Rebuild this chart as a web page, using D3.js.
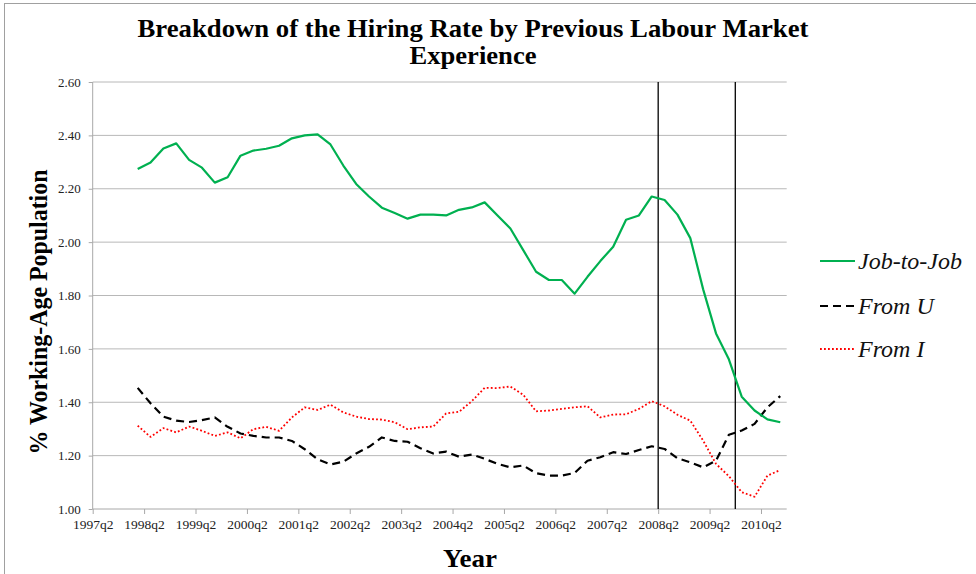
<!DOCTYPE html>
<html>
<head>
<meta charset="utf-8">
<script src="https://cdn.jsdelivr.net/npm/d3@7"></script>
<style>
  html, body { margin: 0; padding: 0; background: #fff; }
  svg { display: block; }
</style>
</head>
<body>
<script>
// Quarters covered by the series (each point sits in the middle of its quarter)
const quarters = [
  "1998q1","1998q2","1998q3","1998q4",
  "1999q1","1999q2","1999q3","1999q4",
  "2000q1","2000q2","2000q3","2000q4",
  "2001q1","2001q2","2001q3","2001q4",
  "2002q1","2002q2","2002q3","2002q4",
  "2003q1","2003q2","2003q3","2003q4",
  "2004q1","2004q2","2004q3","2004q4",
  "2005q1","2005q2","2005q3","2005q4",
  "2006q1","2006q2","2006q3","2006q4",
  "2007q1","2007q2","2007q3","2007q4",
  "2008q1","2008q2","2008q3","2008q4",
  "2009q1","2009q2","2009q3","2009q4",
  "2010q1","2010q2","2010q3"
];

// Hiring rate components, % of working-age population
const jobToJob = [
  2.274, 2.298, 2.351, 2.370,
  2.308, 2.279, 2.223, 2.243,
  2.324, 2.343, 2.350, 2.361,
  2.389, 2.400, 2.404, 2.366,
  2.287, 2.218, 2.171, 2.129,
  2.109, 2.088, 2.103, 2.103,
  2.100, 2.121, 2.130, 2.149,
  2.100, 2.051, 1.970, 1.889,
  1.858, 1.858, 1.807, 1.870,
  1.929, 1.983, 2.084, 2.100,
  2.171, 2.158, 2.103, 2.015,
  1.823, 1.658, 1.561, 1.421,
  1.369, 1.336, 1.325
];
const fromU = [
  1.454, 1.396, 1.346, 1.331,
  1.326, 1.333, 1.343, 1.308,
  1.283, 1.274, 1.268, 1.268,
  1.255, 1.224, 1.186, 1.167,
  1.177, 1.208, 1.233, 1.268,
  1.255, 1.252, 1.228, 1.208,
  1.215, 1.196, 1.204, 1.188,
  1.169, 1.156, 1.163, 1.134,
  1.125, 1.125, 1.135, 1.181,
  1.194, 1.213, 1.206, 1.221,
  1.235, 1.225, 1.190, 1.175,
  1.156, 1.181, 1.278, 1.294,
  1.319, 1.381, 1.423
];
const fromI = [
  1.312, 1.270, 1.303, 1.287,
  1.309, 1.293, 1.274, 1.287,
  1.265, 1.299, 1.308, 1.293,
  1.343, 1.381, 1.371, 1.391,
  1.362, 1.346, 1.337, 1.335,
  1.325, 1.299, 1.306, 1.309,
  1.358, 1.364, 1.404, 1.454,
  1.453, 1.459, 1.428, 1.366,
  1.369, 1.375, 1.381, 1.385,
  1.343, 1.354, 1.355, 1.375,
  1.404, 1.385, 1.353, 1.331,
  1.256, 1.169, 1.123, 1.063,
  1.046, 1.125, 1.146
];

// Axis labels and reference dates
const xTickLabels = ["1997q2","1998q2","1999q2","2000q2","2001q2","2002q2","2003q2",
                     "2004q2","2005q2","2006q2","2007q2","2008q2","2009q2","2010q2"];
const axisStart = "1997q2";
const axisEnd = "2010q4";
const yTicks = [1.00, 1.20, 1.40, 1.60, 1.80, 2.00, 2.20, 2.40, 2.60];
const recessionMarks = ["2008q2", "2009q4"];

const seriesNames = ["Job-to-Job", "From U", "From I"];
const titleLines = ["Breakdown of the Hiring Rate by Previous Labour Market", "Experience"];

// quarter string -> running quarter number
const qNum = s => +s.slice(0, 4) * 4 + (+s.slice(5) - 1);

const W = 976, H = 574;
const plot = { left: 92.7, right: 786.7, top: 82, bottom: 509 };

const svg = d3.select("body").append("svg")
  .attr("width", W).attr("height", H);

// chart area frame
svg.append("rect")
  .attr("x", 4.5).attr("y", 3.5)
  .attr("width", 1200).attr("height", 1200)
  .attr("fill", "none").attr("stroke", "#a0a0a0").attr("stroke-width", 1);

const x = d3.scaleLinear()
  .domain([qNum(axisStart), qNum(axisEnd)])
  .range([plot.left, plot.right]);
const y = d3.scaleLinear()
  .domain([1.0, 2.6])
  .range([plot.bottom, plot.top]);

const serif = "'Liberation Serif', 'Times New Roman', serif";

// horizontal gridlines
svg.append("g").selectAll("line").data(yTicks.slice(1)).join("line")
  .attr("x1", plot.left).attr("x2", plot.right)
  .attr("y1", d => y(d)).attr("y2", d => y(d))
  .attr("stroke", "#b8b8b8").attr("stroke-width", 1);

// y axis
const yAxis = d3.axisLeft(y).tickValues(yTicks).tickFormat(d3.format(".2f"))
  .tickSize(4).tickPadding(8);
const gy = svg.append("g").attr("transform", `translate(${plot.left},0)`).call(yAxis);
gy.select(".domain").attr("stroke", "#a8a8a8").attr("d", `M0,${plot.top}V${plot.bottom}`);
gy.selectAll(".tick line").attr("stroke", "#a8a8a8");
gy.selectAll(".tick text").attr("font-family", serif).attr("font-size", 13).attr("fill", "#222");

// x axis
const xAxis = d3.axisBottom(x)
  .tickValues(xTickLabels.map(qNum))
  .tickFormat((d, i) => xTickLabels[i])
  .tickSize(5).tickPadding(5);
const gx = svg.append("g").attr("transform", `translate(0,${plot.bottom})`).call(xAxis);
gx.select(".domain").attr("stroke", "#a8a8a8").attr("d", `M${plot.left},0H${plot.right}`);
gx.selectAll(".tick line").attr("stroke", "#a8a8a8");
gx.selectAll(".tick text").attr("font-family", serif).attr("font-size", 13.5).attr("fill", "#222");

// recession markers
svg.append("g").selectAll("line").data(recessionMarks).join("line")
  .attr("x1", d => x(qNum(d))).attr("x2", d => x(qNum(d)))
  .attr("y1", plot.top).attr("y2", plot.bottom)
  .attr("stroke", "#000").attr("stroke-width", 1.3);

// series
const series = [
  { name: seriesNames[0], values: jobToJob, color: "#00b050", width: 2.2, dash: null },
  { name: seriesNames[1], values: fromU, color: "#000000", width: 2.2, dash: "8,5" },
  { name: seriesNames[2], values: fromI, color: "#ff0000", width: 1.8, dash: "1.8,2.2" }
];

const line = d3.line()
  .x((d, i) => x(qNum(quarters[i]) + 0.5))
  .y(d => y(d));

// dotted/dashed series first, green on top
[series[2], series[1], series[0]].forEach(s => {
  svg.append("path")
    .datum(s.values)
    .attr("fill", "none")
    .attr("stroke", s.color)
    .attr("stroke-width", s.width)
    .attr("stroke-dasharray", s.dash)
    .attr("stroke-linejoin", "round")
    .attr("d", line);
});

// legend
const legendY = [261, 306, 349];
const lg = svg.append("g");
series.forEach((s, i) => {
  lg.append("line")
    .attr("x1", 820).attr("x2", 855)
    .attr("y1", legendY[i]).attr("y2", legendY[i])
    .attr("stroke", s.color).attr("stroke-width", s.width)
    .attr("stroke-dasharray", s.dash);
  lg.append("text")
    .attr("x", 858).attr("y", legendY[i] + 8)
    .attr("font-family", serif).attr("font-style", "italic")
    .attr("font-size", 24).attr("fill", "#111")
    .text(s.name);
});

// title
const title = svg.append("text")
  .attr("text-anchor", "middle")
  .attr("font-family", serif).attr("font-weight", "bold")
  .attr("font-size", 25).attr("fill", "#000");
title.append("tspan").attr("x", 473).attr("y", 37)
  .attr("textLength", 671).attr("lengthAdjust", "spacingAndGlyphs")
  .text(titleLines[0]);
title.append("tspan").attr("x", 473).attr("y", 64)
  .attr("textLength", 127).attr("lengthAdjust", "spacingAndGlyphs")
  .text(titleLines[1]);

// axis titles
svg.append("text")
  .attr("transform", "translate(47,312) rotate(-90)")
  .attr("text-anchor", "middle")
  .attr("font-family", serif).attr("font-weight", "bold")
  .attr("font-size", 25).attr("fill", "#000")
  .attr("textLength", 285).attr("lengthAdjust", "spacingAndGlyphs")
  .text("% Working-Age Population");

svg.append("text")
  .attr("x", 470).attr("y", 567)
  .attr("text-anchor", "middle")
  .attr("font-family", serif).attr("font-weight", "bold")
  .attr("font-size", 25).attr("fill", "#000")
  .attr("textLength", 54).attr("lengthAdjust", "spacingAndGlyphs")
  .text("Year");
</script>
</body>
</html>
